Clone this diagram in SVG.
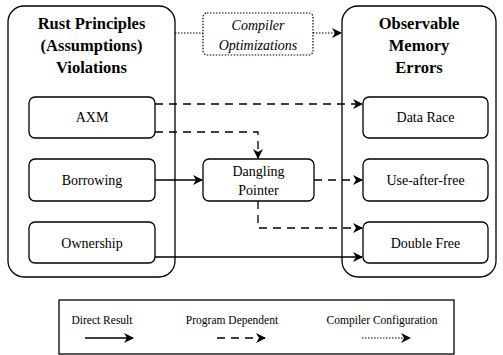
<svg xmlns="http://www.w3.org/2000/svg" width="503" height="355" viewBox="0 0 503 355">
<defs>
<style>
.box{fill:#fff;stroke:#000;stroke-width:1.3}
.big{fill:none;stroke:#000;stroke-width:1.3}
.solid{fill:none;stroke:#000;stroke-width:1.3}
.dash{fill:none;stroke:#000;stroke-width:1.3;stroke-dasharray:8 6}
.dot{fill:none;stroke:#000;stroke-width:1.2;stroke-dasharray:1.5 1.5}
</style>
<marker id="ah" viewBox="0 0 10 10" refX="9" refY="5" markerWidth="10" markerHeight="10" markerUnits="userSpaceOnUse" orient="auto">
<path d="M0,0 L10,5 L0,10 L3,5 Z" fill="#000"/>
</marker>
</defs>

<g font-family="Liberation Serif" text-anchor="middle" fill="#000">
<g id="principles" font-size="16.5" font-weight="bold">
<rect class="big" x="8" y="6" width="167" height="271" rx="16"/>
<text x="91.5" y="29">Rust Principles</text>
<text x="91.5" y="51">(Assumptions)</text>
<text x="91.5" y="73">Violations</text>
</g>
<g id="errors" font-size="16.5" font-weight="bold">
<rect class="big" x="342" y="6" width="154" height="271" rx="16"/>
<text x="419" y="29">Observable</text>
<text x="419" y="51">Memory</text>
<text x="419" y="73">Errors</text>
</g>
<g id="compiler" font-size="14" font-style="italic">
<rect x="203" y="13" width="110" height="42" rx="4" fill="#fff" stroke="#000" stroke-width="1.2" stroke-dasharray="1.5 1.5"/>
<text x="258" y="30">Compiler</text>
<text x="258" y="50">Optimizations</text>
</g>
<g font-size="14">
<g id="axm"><rect class="box" x="29" y="97" width="126" height="41" rx="6"/><text x="92" y="122">AXM</text></g>
<g id="borrowing"><rect class="box" x="29" y="159" width="126" height="42" rx="6"/><text x="92" y="185">Borrowing</text></g>
<g id="ownership"><rect class="box" x="29" y="222" width="126" height="41" rx="6"/><text x="92" y="248">Ownership</text></g>
<g id="dangling"><rect class="box" x="203" y="159" width="111" height="42" rx="6"/><text x="258.5" y="176">Dangling</text><text x="258.5" y="195">Pointer</text></g>
<g id="datarace"><rect class="box" x="363" y="97" width="125" height="41" rx="6"/><text x="425.5" y="122">Data Race</text></g>
<g id="uaf"><rect class="box" x="363" y="159" width="125" height="42" rx="6"/><text x="425.5" y="185">Use-after-free</text></g>
<g id="doublefree"><rect class="box" x="363" y="222" width="125" height="41" rx="6"/><text x="425.5" y="248">Double Free</text></g>
</g>

<g id="connectors">
<path class="dot" d="M175,33 H203"/>
<path class="dot" d="M313,33 H341" marker-end="url(#ah)"/>
<path class="dash" d="M155,104 H362" marker-end="url(#ah)"/>
<path class="dash" d="M155,132 H258 V158" marker-end="url(#ah)"/>
<path class="solid" d="M155,180 H202" marker-end="url(#ah)"/>
<path class="dash" d="M314,180 H362" marker-end="url(#ah)"/>
<path class="dash" d="M258,201 V228 H362" marker-end="url(#ah)"/>
<path class="solid" d="M155,257 H362" marker-end="url(#ah)"/>
</g>

<g id="legend" font-size="11.5">
<rect x="59" y="300" width="395" height="54" fill="#fff" stroke="#000" stroke-width="1.3"/>
<text x="102" y="324">Direct Result</text>
<text x="232" y="324">Program Dependent</text>
<text x="382" y="324">Compiler Configuration</text>
<path class="solid" d="M85,338 H133" marker-end="url(#ah)"/>
<path class="dash" d="M217,338 H265" marker-end="url(#ah)"/>
<path class="dot" d="M362,338 H410" marker-end="url(#ah)"/>
</g>
</g>
</svg>
